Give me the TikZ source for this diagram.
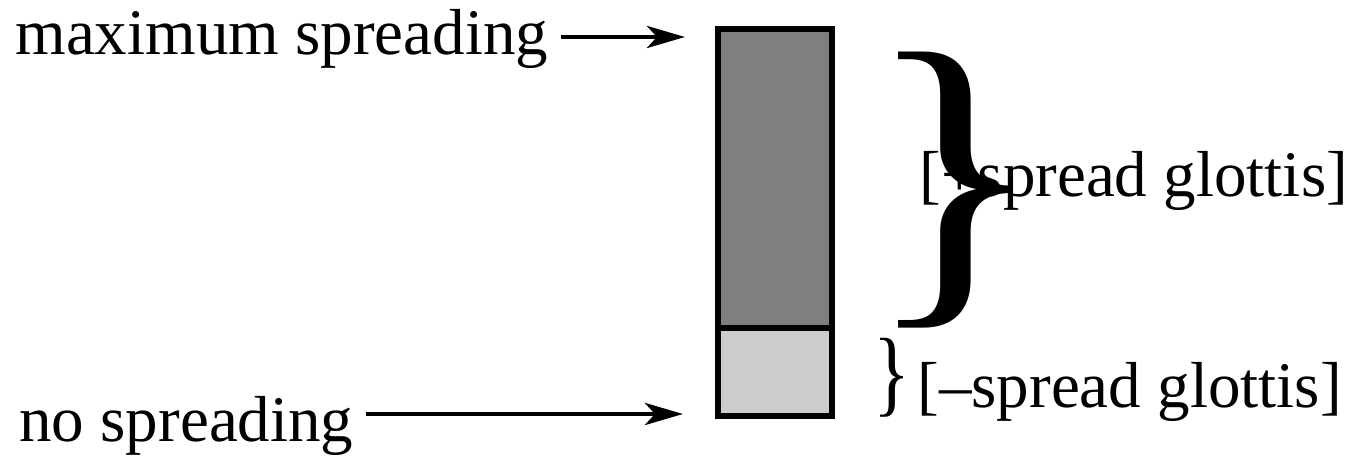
\documentclass[tikz,border=0pt]{standalone}
\usepackage{fontspec}
\setmainfont{Liberation Serif}
\usepackage{graphicx}
\usetikzlibrary{arrows.meta}
\definecolor{spreaddark}{HTML}{7F7F7F}
\definecolor{spreadlight}{HTML}{CCCCCC}
\begin{document}
\begin{tikzpicture}[
  every node/.style={font=\fontsize{18.5}{22}\selectfont},
  label/.style={anchor=base west},
  pointer/.style={-{Stealth[length=0.38cm,width=0.22cm,inset=0.1cm]},line width=1.4pt},
  bracenode/.style={inner sep=0pt}]
  \useasboundingbox (0,0) rectangle (13.63,4.56);
  \filldraw[fill=spreaddark,line width=1.6pt] (7.18,1.28) rectangle (8.32,4.27);
  \filldraw[fill=spreadlight,line width=1.6pt] (7.18,0.4) rectangle (8.32,1.28);
  \node[label] (maxlabel) at (0.03,4.01) {maximum spreading};
  \node[label] (nolabel) at (0.07,0.15) {no spreading};
  \coordinate (maxtip) at (6.85,4.19);
  \coordinate (notip) at (6.83,0.42);
  \draw[pointer] (maxlabel.east |- maxtip) -- (maxtip);
  \draw[pointer] (nolabel.east |- notip) -- (notip);
  \node[bracenode] (plusbrace) at (9.54,2.66) {\resizebox*{1.8cm}{2.76cm}{\}}};
  \node[bracenode] (minusbrace) at (8.92,0.785) {\resizebox*{0.37cm}{0.79cm}{\}}};
  \node[label] (pluslabel) at (9.07,2.59) {[+spread glottis]};
  \node[label] (minuslabel) at (9.05,0.49) {[–spread glottis]};
\end{tikzpicture}
\end{document}
